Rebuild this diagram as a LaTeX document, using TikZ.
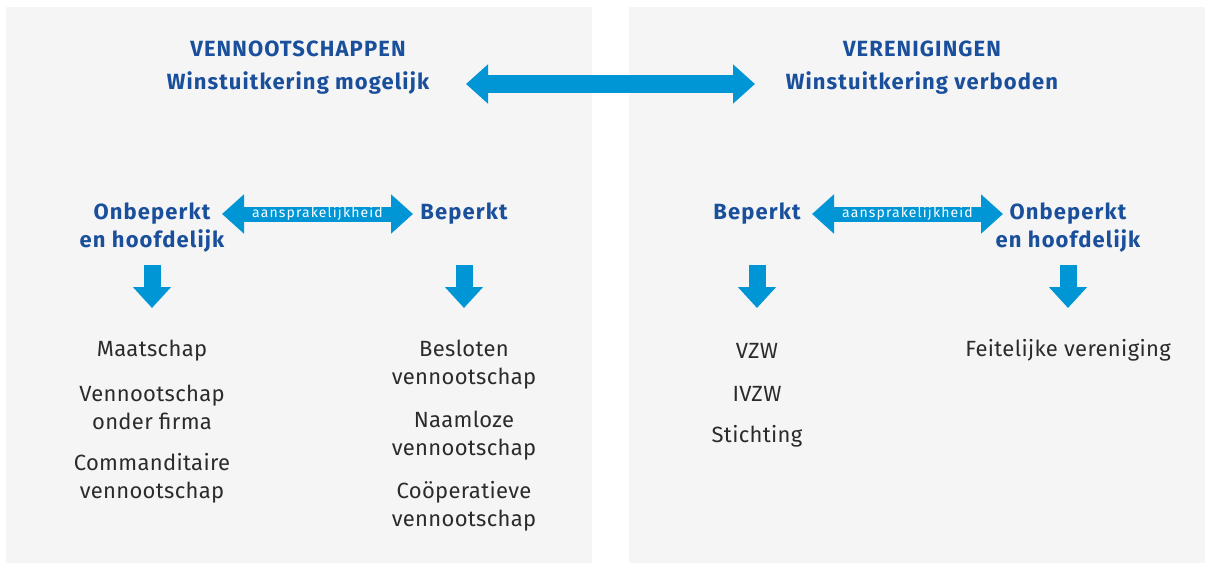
\documentclass[tikz,border=0pt]{standalone}
\usepackage{fontspec}
\setmainfont{Fira Sans}
\newfontfamily\headfont{Fira Sans}[LetterSpace=5]
\newfontfamily\itemfont{Fira Sans}[LetterSpace=1.5]
\newfontfamily\liabfont{Fira Sans}[LetterSpace=8]
\usetikzlibrary{arrows.meta}
\definecolor{panelgrey}{HTML}{F5F5F5}
\definecolor{headblue}{HTML}{1A4F9C}
\definecolor{arrowblue}{HTML}{0096D6}
\definecolor{listgrey}{HTML}{2B2B2B}

\begin{document}
\begin{tikzpicture}[x=1pt,y=-1pt,
	head/.style={text=headblue, font=\headfont\bfseries\fontsize{22}{28}\selectfont, align=center, inner sep=0pt, yshift=-1.5pt},
	item/.style={text=listgrey, font=\itemfont\fontsize{22}{28}\selectfont, align=center, inner sep=0pt, yshift=-1.5pt},
	bigarrow/.style={draw=arrowblue, line width=18pt, {Triangle[width=38pt,length=22pt]}-{Triangle[width=38pt,length=22pt]}},
	liabarrow/.style={draw=arrowblue, line width=15pt, {Triangle[width=38pt,length=22pt]}-{Triangle[width=38pt,length=22pt]}},
	downarrow/.style={draw=arrowblue, line width=17pt, -{Triangle[width=37pt,length=21pt]}},
	liab/.style={text=white, font=\liabfont\fontsize{14}{16}\selectfont, inner sep=0pt}]
	\useasboundingbox (0,0) rectangle (1205,563);
	\fill[panelgrey] (6,7) rectangle (592,563);
	\fill[panelgrey] (629,7) rectangle (1205,563);

	\path (298,47) node [head] (venn) {VENNOOTSCHAPPEN};
	\path (298,82) node [head] (winstL) {Winstuitkering mogelijk};
	\path (922,47) node [head] (ver) {VERENIGINGEN};
	\path (922,82) node [head] (winstR) {Winstuitkering verboden};
	\coordinate (bigL) at (466,84);
	\coordinate (bigR) at (755,84);
	\draw [bigarrow] (bigL) -- (bigR);

	\path (152,226) node [head] (onbL) {Onbeperkt\\en hoofdelijk};
	\path (464,212) node [head] (bepL) {Beperkt};
	\path (757,212) node [head] (bepR) {Beperkt};
	\path (1068,226) node [head] (onbR) {Onbeperkt\\en hoofdelijk};

	\coordinate (liabL1) at (222,214);
	\coordinate (liabL2) at (413,214);
	\coordinate (liabR1) at (812,214);
	\coordinate (liabR2) at (1003,214);
	\draw [liabarrow] (liabL1) -- (liabL2) node [midway, liab] {aansprakelijkheid};
	\draw [liabarrow] (liabR1) -- (liabR2) node [midway, liab] {aansprakelijkheid};

	\path (152,349) node [item] (maat) {Maatschap};
	\path (152,406) node [item] (vof) {Vennootschap\\onder firma};
	\path (152,477) node [item] (comm) {Commanditaire\\vennootschap};
	\path (464,363) node [item] (bv) {Besloten\\vennootschap};
	\path (464,434) node [item] (nv) {Naamloze\\vennootschap};
	\path (464,505) node [item] (cv) {Coöperatieve\\vennootschap};
	\path (757,349) node [item] (vzw) {VZW};
	\path (757,392) node [item] (ivzw) {IVZW};
	\path (757,435) node [item] (sticht) {Stichting};
	\path (1068,349) node [item] (feit) {Feitelijke vereniging};

	\foreach \c/\n in {152/1,464/2,757/3,1068/4}{
		\coordinate (top\n) at (\c,265);
		\coordinate (bot\n) at (\c,308);
		\draw [downarrow] (top\n) -- (bot\n);
	}
\end{tikzpicture}
\end{document}
